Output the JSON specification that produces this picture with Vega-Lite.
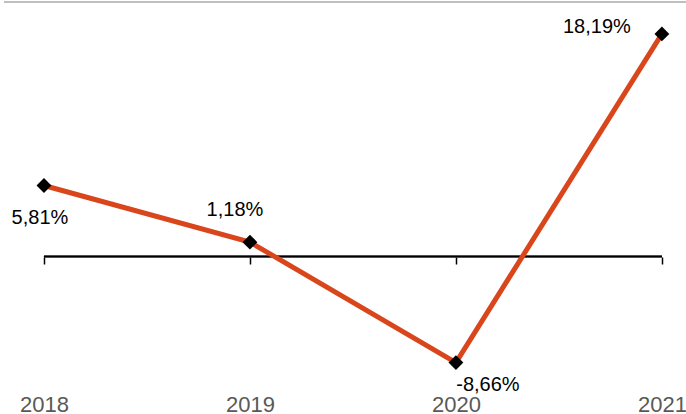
{
  "$schema": "https://vega.github.io/schema/vega-lite/v6.json",
  "autosize": "none",
  "width": 682,
  "height": 377,
  "padding": {"left": 4, "top": 2, "right": 0, "bottom": 35},
  "background": "white",
  "config": {"view": {"stroke": null}, "font": "Liberation Sans"},
  "data": {"values": [
    {"year": 2018, "value": 5.81, "label": "5,81%"},
    {"year": 2019, "value": 1.18, "label": "1,18%"},
    {"year": 2020, "value": -8.66, "label": "-8,66%"},
    {"year": 2021, "value": 18.19, "label": "18,19%"}
  ]},
  "encoding": {
    "x": {"field": "year", "type": "quantitative",
      "scale": {"domain": [2017.806, 2021.117], "nice": false, "zero": false},
      "axis": {"values": [2018, 2019, 2020, 2021], "format": "d", "title": null, "grid": false,
        "domain": false, "ticks": true, "tickColor": "black", "tickSize": 7, "tickWidth": 1.5,
        "offset": -122, "labelPadding": 147, "labelBaseline": "alphabetic",
        "labelFontSize": 22, "labelColor": "#595959", "labelFont": "Liberation Sans", "labelFlush": false}},
    "y": {"field": "value", "type": "quantitative",
      "scale": {"domain": [-10, 20.8], "nice": false, "zero": false}, "axis": null}
  },
  "layer": [
    {"mark": {"type": "rule", "color": "#bfbfbf", "strokeWidth": 2},
     "encoding": {"x": null, "y": {"datum": 20.8}}},
    {"mark": {"type": "rule", "color": "black", "strokeWidth": 1.5},
     "encoding": {"x": {"datum": 2018}, "x2": {"datum": 2021}, "y": {"datum": 0}}},
    {"mark": {"type": "line", "color": "#d9461b", "strokeWidth": 5}},
    {"mark": {"type": "point", "shape": "diamond", "filled": true, "color": "black", "opacity": 1, "size": 220}},
    {"transform": [{"filter": "datum.year == 2018"}],
     "mark": {"type": "text", "fontSize": 20, "color": "black", "dx": -4, "dy": 33, "baseline": "middle"},
     "encoding": {"text": {"field": "label"}}},
    {"transform": [{"filter": "datum.year == 2019"}],
     "mark": {"type": "text", "fontSize": 20, "color": "black", "dx": -15, "dy": -32, "baseline": "middle"},
     "encoding": {"text": {"field": "label"}}},
    {"transform": [{"filter": "datum.year == 2020"}],
     "mark": {"type": "text", "fontSize": 20, "color": "black", "dx": 32, "dy": 22, "baseline": "middle"},
     "encoding": {"text": {"field": "label"}}},
    {"transform": [{"filter": "datum.year == 2021"}],
     "mark": {"type": "text", "fontSize": 20, "color": "black", "dx": -65, "dy": -7, "baseline": "middle"},
     "encoding": {"text": {"field": "label"}}}
  ]
}
